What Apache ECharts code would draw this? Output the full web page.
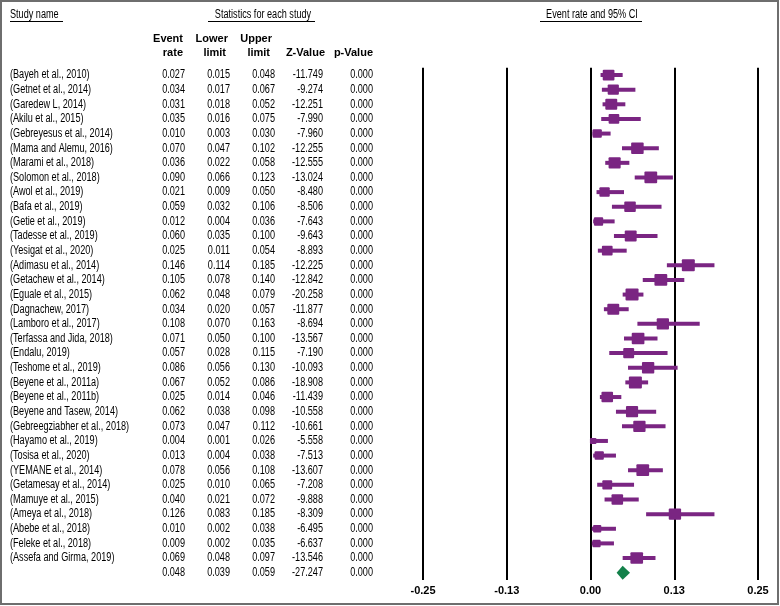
<!DOCTYPE html>
<html>
<head>
<meta charset="utf-8">
<script src="https://cdn.jsdelivr.net/npm/echarts@6/dist/echarts.min.js"></script>
<style>html,body{margin:0;padding:0;background:#fff}#c{width:780px;height:606px}</style>
</head>
<body>
<div id="c"></div>
<script>
const names = [
  "(Bayeh et al., 2010)", "(Getnet et al., 2014)", "(Garedew L, 2014)", "(Akilu et al., 2015)",
  "(Gebreyesus et al., 2014)", "(Mama and Alemu, 2016)", "(Marami et al., 2018)", "(Solomon et al., 2018)",
  "(Awol et al., 2019)", "(Bafa et al., 2019)", "(Getie et al., 2019)", "(Tadesse et al., 2019)",
  "(Yesigat et al., 2020)", "(Adimasu et al., 2014)", "(Getachew et al., 2014)", "(Eguale et al., 2015)",
  "(Dagnachew, 2017)", "(Lamboro et al., 2017)", "(Terfassa and Jida, 2018)", "(Endalu, 2019)",
  "(Teshome et al., 2019)", "(Beyene et al., 2011a)", "(Beyene et al., 2011b)", "(Beyene and Tasew, 2014)",
  "(Gebreegziabher et al., 2018)", "(Hayamo et al., 2019)", "(Tosisa et al., 2020)", "(YEMANE et al., 2014)",
  "(Getamesay et al., 2014)", "(Mamuye et al., 2015)", "(Ameya et al., 2018)", "(Abebe et al., 2018)",
  "(Feleke et al., 2018)", "(Assefa and Girma, 2019)", ""
];
const eventRate = [0.027,0.034,0.031,0.035,0.010,0.070,0.036,0.090,0.021,0.059,0.012,0.060,0.025,0.146,0.105,0.062,0.034,0.108,0.071,0.057,0.086,0.067,0.025,0.062,0.073,0.004,0.013,0.078,0.025,0.040,0.126,0.010,0.009,0.069,0.048];
const lowerLimit = [0.015,0.017,0.018,0.016,0.003,0.047,0.022,0.066,0.009,0.032,0.004,0.035,0.011,0.114,0.078,0.048,0.020,0.070,0.050,0.028,0.056,0.052,0.014,0.038,0.047,0.001,0.004,0.056,0.010,0.021,0.083,0.002,0.002,0.048,0.039];
const upperLimit = [0.048,0.067,0.052,0.075,0.030,0.102,0.058,0.123,0.050,0.106,0.036,0.100,0.054,0.185,0.140,0.079,0.057,0.163,0.100,0.115,0.130,0.086,0.046,0.098,0.112,0.026,0.038,0.108,0.065,0.072,0.185,0.038,0.035,0.097,0.059];
const zValue = [-11.749,-9.274,-12.251,-7.990,-7.960,-12.255,-12.555,-13.024,-8.480,-8.506,-7.643,-9.643,-8.893,-12.225,-12.842,-20.258,-11.877,-8.694,-13.567,-7.190,-10.093,-18.908,-11.439,-10.558,-10.661,-5.558,-7.513,-13.607,-7.208,-9.888,-8.309,-6.495,-6.637,-13.546,-27.247];
const pValue = [0,0,0,0,0,0,0,0,0,0,0,0,0,0,0,0,0,0,0,0,0,0,0,0,0,0,0,0,0,0,0,0,0,0,0];
const tickLabels = ["-0.25","-0.13","0.00","0.13","0.25"];
const xMin = -0.25, xMax = 0.25, xStep = 0.125;

const summaryIndex = names.length - 1;
const rowIdx = names.map((_, i) => i);
const arial = 'Arial, "Liberation Sans", Helvetica, sans-serif';
const squeeze = 0.76;
const purple = '#7a2582';
const green = '#13814a';

// box size from approximate random-effects weight (derived from rate and z)
function boxSize(i) {
  const p = eventRate[i];
  const se = Math.log(p / (1 - p)) / zValue[i];
  const w = 1 / (se * se + 0.3);
  return 7.35 * Math.sqrt(w);
}

const chart = echarts.init(document.getElementById('c'), null, {renderer: 'canvas'});

function cell(x, y, s, align) {
  return {type: 'text', x: x, y: y, scaleX: squeeze, scaleY: 1,
    style: {text: s, fill: '#000', fontSize: 12, fontFamily: arial, align: align, verticalAlign: 'middle'}};
}
function hline(x1, x2, y) {
  return {type: 'line', shape: {x1: x1, y1: y, x2: x2, y2: y}, style: {stroke: '#000', lineWidth: 1}, silent: true};
}
function txt(x, y, s, align, weight, size, sx) {
  return {type: 'text', x: x, y: y, scaleX: sx || 1, scaleY: 1,
    style: {text: s, fill: '#000', fontSize: size, fontWeight: weight, fontFamily: arial, align: align, verticalAlign: 'middle'}, silent: true};
}

const option = {
  animation: false,
  backgroundColor: '#fff',
  grid: {left: 423, right: 22, top: 67.7, bottom: 26, containLabel: false},
  xAxis: {
    type: 'value', min: xMin, max: xMax, interval: xStep,
    axisLine: {show: false}, axisTick: {show: false},
    splitLine: {show: true, lineStyle: {color: '#000', width: 2, type: 'solid'}},
    axisLabel: {
      margin: 5, color: '#000', fontWeight: 'bold', fontSize: 11, fontFamily: arial,
      formatter: v => tickLabels[Math.round((v - xMin) / xStep)]
    }
  },
  yAxis: {
    type: 'category', inverse: true, data: rowIdx,
    axisLine: {show: false}, axisTick: {show: false}, splitLine: {show: false},
    axisLabel: {show: false}
  },
  series: [{
    type: 'custom',
    data: rowIdx.map(i => [i, lowerLimit[i], eventRate[i], upperLimit[i]]),
    encode: {y: 0, x: [1, 2, 3]},
    clip: false,
    renderItem: function (params, api) {
      const i = api.value(0);
      const lo = api.coord([api.value(1), i]);
      const mid = api.coord([api.value(2), i]);
      const hi = api.coord([api.value(3), i]);
      const cy = mid[1];
      const texts = [
        cell(10, cy, names[i], 'left'),
        cell(185, cy, eventRate[i].toFixed(3), 'right'),
        cell(230, cy, lowerLimit[i].toFixed(3), 'right'),
        cell(275, cy, upperLimit[i].toFixed(3), 'right'),
        cell(323, cy, zValue[i].toFixed(3), 'right'),
        cell(373, cy, pValue[i].toFixed(3), 'right')
      ];
      if (i === summaryIndex) {
        return {type: 'group', children: texts.concat([
          {type: 'polygon', shape: {points: [[lo[0], cy], [mid[0], cy - 7], [hi[0], cy], [mid[0], cy + 7]]}, style: {fill: green}}
        ])};
      }
      const s = boxSize(i);
      return {type: 'group', children: texts.concat([
        {type: 'line', shape: {x1: lo[0], y1: cy, x2: hi[0], y2: cy}, style: {stroke: purple, lineWidth: 4}},
        {type: 'rect', shape: {x: mid[0] - s / 2, y: cy - s * 0.46, width: s, height: s * 0.92, r: 1}, style: {fill: purple}}
      ])};
    }
  }],
  graphic: [
    {type: 'rect', shape: {x: 1, y: 1, width: 777, height: 603}, style: {fill: null, stroke: '#6e6e6e', lineWidth: 2}, silent: true},
    txt(10, 15, 'Study name', 'left', 'normal', 12, squeeze),
    hline(10, 63, 21.5),
    txt(263, 15, 'Statistics for each study', 'center', 'normal', 12, squeeze),
    hline(208, 315, 21.5),
    txt(592, 15, 'Event rate and 95% CI', 'center', 'normal', 12, squeeze),
    hline(540, 642, 21.5),
    txt(183, 39, 'Event', 'right', 'bold', 11),
    txt(183, 53, 'rate', 'right', 'bold', 11),
    txt(228, 39, 'Lower', 'right', 'bold', 11),
    txt(226, 53, 'limit', 'right', 'bold', 11),
    txt(272, 39, 'Upper', 'right', 'bold', 11),
    txt(270, 53, 'limit', 'right', 'bold', 11),
    txt(325, 53, 'Z-Value', 'right', 'bold', 11),
    txt(373, 53, 'p-Value', 'right', 'bold', 11)
  ]
};
chart.setOption(option);
</script>
</body>
</html>
